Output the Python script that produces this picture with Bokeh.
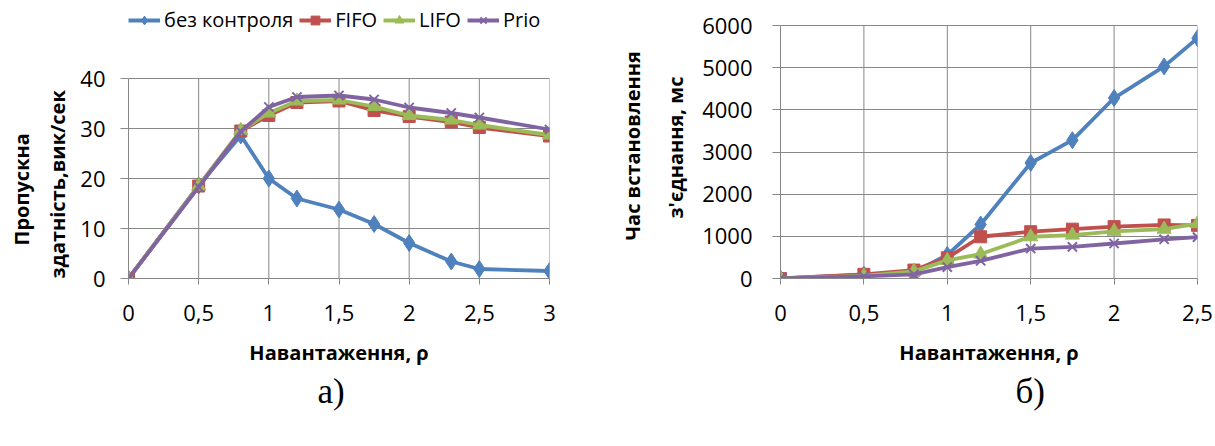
from bokeh.plotting import figure
from bokeh.layouts import row
from bokeh.models import (FixedTicker, CustomJSTickFormatter, Legend, LegendItem,
                          LinearAxis, Range1d, Title)
from bokeh.embed import file_html
from bokeh.resources import INLINE

# ---------------- data ----------------
series_names = ["без контроля", "FIFO", "LIFO", "Prio"]

load_a = [0, 0.5, 0.8, 1.0, 1.2, 1.5, 1.75, 2.0, 2.3, 2.5, 3.0]
thr_none = [0, 18.6, 28.6, 20.0, 16.0, 13.8, 10.9, 7.1, 3.4, 1.9, 1.5]
thr_fifo = [0, 18.5, 29.5, 32.6, 35.2, 35.5, 33.6, 32.4, 31.3, 30.2, 28.5]
thr_lifo = [0, 18.5, 29.6, 33.1, 35.5, 35.7, 34.4, 32.6, 31.7, 30.7, 28.7]
thr_prio = [0, 18.3, 29.4, 34.3, 36.3, 36.6, 35.8, 34.2, 33.1, 32.2, 29.8]

load_b = [0, 0.5, 0.8, 1.0, 1.2, 1.5, 1.75, 2.0, 2.3, 2.5]
time_none = [0, 90, 150, 560, 1280, 2740, 3280, 4280, 5030, 5700]
time_fifo = [0, 100, 200, 490, 990, 1110, 1170, 1230, 1270, 1260]
time_lifo = [0, 60, 170, 430, 580, 990, 1030, 1120, 1170, 1300]
time_prio = [0, 50, 100, 270, 420, 710, 750, 830, 930, 980]

x_ticks_a = [0, 0.5, 1, 1.5, 2, 2.5, 3]
y_ticks_a = [0, 10, 20, 30, 40]
x_ticks_b = [0, 0.5, 1, 1.5, 2, 2.5]
y_ticks_b = [0, 1000, 2000, 3000, 4000, 5000, 6000]

x_title = "Навантаження, ρ"
y_title_a = ["здатність,вик/сек", "Пропускна"]
y_title_b = ["з'єднання, мс", "Час встановлення"]

# ---------------- style ----------------
COLORS = ["#4F81BD", "#C0504D", "#9BBB59", "#8064A2"]
MARKERS = ["diamond", "square", "triangle", "x"]
MSIZES = [17, 12, 14, 13]
GRID = "#878787"
FONT = "Open Sans"
LW = 3.8
H = 446
TOP = 4            # common frame top (frames of a row are aligned)
FRAME_BOTTOM = 278
BOTTOM = H - FRAME_BOTTOM

comma_fmt = CustomJSTickFormatter(code="return tick.toString().replace('.', ',');")


def make_fig(width, x_end, y_end, top_px, xt, yt, bl, br, ystand):
    # the top tick sits at top_px; the frame extends above it up to TOP
    span = y_end - yt[0]
    y_hi = yt[0] + span * (FRAME_BOTTOM - TOP) / (FRAME_BOTTOM - top_px)
    p = figure(width=width, height=H, output_backend="svg",
               toolbar_location=None,
               x_range=Range1d(0, x_end), y_range=Range1d(yt[0], y_hi),
               min_border_left=bl, min_border_right=br,
               min_border_top=TOP, min_border_bottom=BOTTOM)
    p.outline_line_color = None
    p.background_fill_color = "white"
    p.border_fill_color = "white"
    p.xaxis.ticker = FixedTicker(ticks=xt)
    p.yaxis.ticker = FixedTicker(ticks=yt)
    p.xaxis.formatter = comma_fmt
    for ax in (p.xaxis[0], p.yaxis[0]):
        ax.axis_line_color = GRID
        ax.axis_line_width = 1
        ax.major_tick_line_color = GRID
        ax.major_tick_in = 0
        ax.minor_tick_line_color = None
        ax.major_label_text_font = FONT
        ax.major_label_text_font_size = "22px"
        ax.major_label_text_color = "black"
    p.xaxis.major_tick_out = 6
    p.yaxis.major_tick_out = 8
    p.xaxis.major_label_standoff = 20
    p.yaxis.major_label_standoff = ystand
    p.xaxis.axis_label = x_title
    p.xaxis.axis_label_standoff = 15
    p.xaxis.axis_label_text_font = FONT
    p.xaxis.axis_label_text_font_style = "bold"
    p.xaxis.axis_label_text_font_size = "20px"
    p.xaxis.axis_label_text_color = "black"
    p.yaxis.bounds = (yt[0], yt[-1])
    p.ygrid.ticker = FixedTicker(ticks=yt)
    p.ygrid.grid_line_color = GRID
    p.ygrid.grid_line_width = 1
    p.xgrid.visible = False
    # vertical grid lines only up to the top tick
    p.segment(x0=xt, y0=[yt[0]] * len(xt), x1=xt, y1=[yt[-1]] * len(xt),
              line_color=GRID, line_width=1, level="underlay")
    return p


def add_y_titles(p, lines, offsets, standoffs):
    for text, off, st in zip(lines, offsets, standoffs):
        p.add_layout(Title(text=text, align="left", offset=off, standoff=st,
                           text_font=FONT, text_font_style="bold",
                           text_font_size="20px", text_color="black"), "left")


def add_caption(p, text, off):
    # empty spacer axis (no ticks, no labels, no line) to push the caption down
    spacer = LinearAxis(ticker=FixedTicker(ticks=[]), axis_line_color=None,
                        major_tick_out=33, major_tick_in=0,
                        major_tick_line_color="white",
                        minor_tick_line_color=None,
                        major_label_standoff=0)
    p.add_layout(spacer, "below")
    p.add_layout(Title(text=text, align="left", offset=off,
                       text_font="Liberation Serif", text_font_size="35px",
                       text_font_style="normal", text_color="black",
                       standoff=2), "below")


def draw_series(p, xs, ys_list):
    items = []
    for name, ys, c, m, s in zip(series_names, ys_list, COLORS, MARKERS, MSIZES):
        ln = p.line(xs, ys, line_color=c, line_width=LW, line_join="round")
        if m == "x":
            sc = p.scatter(xs, ys, marker=m, size=s, line_color=c, line_width=2)
        else:
            sc = p.scatter(xs, ys, marker=m, size=s, fill_color=c, line_color=c)
        items.append(LegendItem(label=name, renderers=[ln, sc]))
    return items


# ---- chart a) ----
pa = make_fig(610, 3, 40, 78, x_ticks_a, y_ticks_a, 128, 61, 15)
items = draw_series(pa, load_a, [thr_none, thr_fifo, thr_lifo, thr_prio])
add_y_titles(pa, y_title_a, [0, 33], [14, 0])

legend = Legend(items=items, orientation="horizontal", location=(0, 245),
                glyph_width=32, glyph_height=22, label_height=22,
                label_standoff=4, spacing=6, padding=0, margin=0,
                background_fill_alpha=0, border_line_color=None,
                label_text_font=FONT, label_text_font_size="20px",
                label_text_color="black")
pa.add_layout(legend, "center")
add_caption(pa, "а)", 189)

# ---- chart б) ----
pb = make_fig(603, 2.5, 6000, 25, x_ticks_b, y_ticks_b, 170, 16, 20)
draw_series(pb, load_b, [time_none, time_fifo, time_lifo, time_prio])
add_y_titles(pb, y_title_b, [60, 38], [22, 5])
add_caption(pb, "б)", 235)

layout = row(pa, pb)
open("out.html", "w").write(file_html(layout, INLINE))
